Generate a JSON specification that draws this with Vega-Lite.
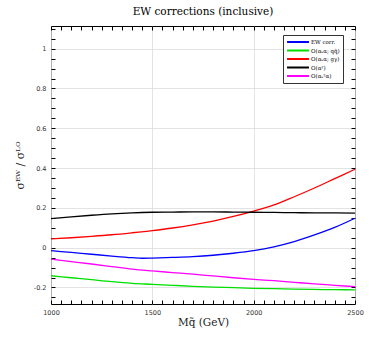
{
  "$schema": "https://vega.github.io/schema/vega-lite/v6.json",
  "autosize": "none",
  "width": 304,
  "height": 278,
  "padding": {"left": 51, "top": 26, "right": 37, "bottom": 39},
  "background": "white",
  "title": {"text": "EW corrections (inclusive)", "font": "DejaVu Serif", "fontSize": 10.5, "fontWeight": "normal", "color": "black", "offset": 8, "anchor": "middle"},
  "config": {
    "view": {"stroke": "black", "strokeWidth": 1},
    "axis": {"domain": false, "zindex": 1, "labelFont": "DejaVu Sans", "labelFontSize": 6.5, "labelColor": "#333", "titleFont": "DejaVu Serif", "titleFontWeight": "normal", "titleColor": "#222", "gridColor": "#dcdcdc", "gridWidth": 0.8}
  },
  "data": {"values": [
    {"m": 1000, "s": "EW corr.", "v": -0.015}, {"m": 1100, "s": "EW corr.", "v": -0.024}, {"m": 1200, "s": "EW corr.", "v": -0.033}, {"m": 1300, "s": "EW corr.", "v": -0.042}, {"m": 1400, "s": "EW corr.", "v": -0.05}, {"m": 1450, "s": "EW corr.", "v": -0.053}, {"m": 1500, "s": "EW corr.", "v": -0.052}, {"m": 1600, "s": "EW corr.", "v": -0.049}, {"m": 1700, "s": "EW corr.", "v": -0.045}, {"m": 1800, "s": "EW corr.", "v": -0.038}, {"m": 1900, "s": "EW corr.", "v": -0.028}, {"m": 2000, "s": "EW corr.", "v": -0.015}, {"m": 2100, "s": "EW corr.", "v": 0.004}, {"m": 2200, "s": "EW corr.", "v": 0.03}, {"m": 2300, "s": "EW corr.", "v": 0.064}, {"m": 2400, "s": "EW corr.", "v": 0.102}, {"m": 2500, "s": "EW corr.", "v": 0.148},
    {"m": 1000, "s": "O(αₛα; qq̄)", "v": -0.141}, {"m": 1100, "s": "O(αₛα; qq̄)", "v": -0.151}, {"m": 1200, "s": "O(αₛα; qq̄)", "v": -0.161}, {"m": 1300, "s": "O(αₛα; qq̄)", "v": -0.171}, {"m": 1400, "s": "O(αₛα; qq̄)", "v": -0.179}, {"m": 1500, "s": "O(αₛα; qq̄)", "v": -0.184}, {"m": 1600, "s": "O(αₛα; qq̄)", "v": -0.189}, {"m": 1700, "s": "O(αₛα; qq̄)", "v": -0.194}, {"m": 1800, "s": "O(αₛα; qq̄)", "v": -0.198}, {"m": 1900, "s": "O(αₛα; qq̄)", "v": -0.201}, {"m": 2000, "s": "O(αₛα; qq̄)", "v": -0.204}, {"m": 2100, "s": "O(αₛα; qq̄)", "v": -0.206}, {"m": 2200, "s": "O(αₛα; qq̄)", "v": -0.208}, {"m": 2300, "s": "O(αₛα; qq̄)", "v": -0.21}, {"m": 2400, "s": "O(αₛα; qq̄)", "v": -0.211}, {"m": 2500, "s": "O(αₛα; qq̄)", "v": -0.212},
    {"m": 1000, "s": "O(αₛα; gγ)", "v": 0.044}, {"m": 1100, "s": "O(αₛα; gγ)", "v": 0.05}, {"m": 1200, "s": "O(αₛα; gγ)", "v": 0.057}, {"m": 1300, "s": "O(αₛα; gγ)", "v": 0.065}, {"m": 1400, "s": "O(αₛα; gγ)", "v": 0.075}, {"m": 1500, "s": "O(αₛα; gγ)", "v": 0.086}, {"m": 1600, "s": "O(αₛα; gγ)", "v": 0.099}, {"m": 1700, "s": "O(αₛα; gγ)", "v": 0.115}, {"m": 1800, "s": "O(αₛα; gγ)", "v": 0.134}, {"m": 1900, "s": "O(αₛα; gγ)", "v": 0.157}, {"m": 2000, "s": "O(αₛα; gγ)", "v": 0.184}, {"m": 2100, "s": "O(αₛα; gγ)", "v": 0.215}, {"m": 2200, "s": "O(αₛα; gγ)", "v": 0.256}, {"m": 2300, "s": "O(αₛα; gγ)", "v": 0.3}, {"m": 2400, "s": "O(αₛα; gγ)", "v": 0.347}, {"m": 2500, "s": "O(αₛα; gγ)", "v": 0.394},
    {"m": 1000, "s": "O(α²)", "v": 0.146}, {"m": 1100, "s": "O(α²)", "v": 0.155}, {"m": 1200, "s": "O(α²)", "v": 0.163}, {"m": 1300, "s": "O(α²)", "v": 0.17}, {"m": 1400, "s": "O(α²)", "v": 0.175}, {"m": 1500, "s": "O(α²)", "v": 0.178}, {"m": 1600, "s": "O(α²)", "v": 0.179}, {"m": 1700, "s": "O(α²)", "v": 0.18}, {"m": 1800, "s": "O(α²)", "v": 0.18}, {"m": 1900, "s": "O(α²)", "v": 0.179}, {"m": 2000, "s": "O(α²)", "v": 0.178}, {"m": 2100, "s": "O(α²)", "v": 0.177}, {"m": 2200, "s": "O(α²)", "v": 0.176}, {"m": 2300, "s": "O(α²)", "v": 0.175}, {"m": 2400, "s": "O(α²)", "v": 0.175}, {"m": 2500, "s": "O(α²)", "v": 0.174},
    {"m": 1000, "s": "O(αₛ²α)", "v": -0.058}, {"m": 1100, "s": "O(αₛ²α)", "v": -0.07}, {"m": 1200, "s": "O(αₛ²α)", "v": -0.082}, {"m": 1300, "s": "O(αₛ²α)", "v": -0.095}, {"m": 1400, "s": "O(αₛ²α)", "v": -0.108}, {"m": 1500, "s": "O(αₛ²α)", "v": -0.117}, {"m": 1600, "s": "O(αₛ²α)", "v": -0.125}, {"m": 1700, "s": "O(αₛ²α)", "v": -0.133}, {"m": 1800, "s": "O(αₛ²α)", "v": -0.142}, {"m": 1900, "s": "O(αₛ²α)", "v": -0.151}, {"m": 2000, "s": "O(αₛ²α)", "v": -0.159}, {"m": 2100, "s": "O(αₛ²α)", "v": -0.166}, {"m": 2200, "s": "O(αₛ²α)", "v": -0.174}, {"m": 2300, "s": "O(αₛ²α)", "v": -0.182}, {"m": 2400, "s": "O(αₛ²α)", "v": -0.189}, {"m": 2500, "s": "O(αₛ²α)", "v": -0.196}
  ]},
  "layer": [
    {
      "mark": {"type": "line", "strokeWidth": 1.3, "interpolate": "monotone"},
      "encoding": {
        "x": {"field": "m", "type": "quantitative", "scale": {"domain": [1000, 2500], "nice": false, "zero": false},
          "axis": {"title": "Mq̃ (GeV)", "titleFontSize": 10.5, "titlePadding": 2, "ticks": true, "tickSize": 4, "tickColor": "black", "tickWidth": 1, "tickOpacity": 1, "offset": -4, "domain": false,
            "values": [1000,1050,1100,1150,1200,1250,1300,1350,1400,1450,1500,1550,1600,1650,1700,1750,1800,1850,1900,1950,2000,2050,2100,2150,2200,2250,2300,2350,2400,2450,2500],
            "labelExpr": "datum.value % 500 === 0 ? datum.value : ''",
            "gridOpacity": {"condition": {"test": "datum.value % 500 === 0", "value": 1}, "value": 0},
            "labelPadding": 5, "labelFlush": false}},
        "y": {"field": "v", "type": "quantitative", "scale": {"domain": [-0.283, 1.114], "nice": false, "zero": false},
          "axis": {"title": "σᴱᵂ / σᴸᴼ", "titleFontSize": 11, "titlePadding": 8, "ticks": true, "tickSize": 4, "tickColor": "black", "tickWidth": 1, "tickOpacity": 1, "offset": -4, "domain": false,
            "values": [-0.25,-0.2,-0.15,-0.1,-0.05,0,0.05,0.1,0.15,0.2,0.25,0.3,0.35,0.4,0.45,0.5,0.55,0.6,0.65,0.7,0.75,0.8,0.85,0.9,0.95,1,1.05,1.1],
            "labelExpr": "abs(datum.value*5 - round(datum.value*5)) < 0.001 ? replace(format(datum.value, '.1~f'), '−', '-') : ''",
            "gridOpacity": {"condition": {"test": "abs(datum.value*5 - round(datum.value*5)) < 0.001", "value": 1}, "value": 0},
            "labelPadding": 5}},
        "color": {"field": "s", "type": "nominal",
          "scale": {"domain": ["EW corr.", "O(αₛα; qq̄)", "O(αₛα; gγ)", "O(α²)", "O(αₛ²α)"], "range": ["#0000ff", "#00e000", "#ff0000", "#000000", "#ff00ff"]},
          "legend": {"title": null, "orient": "none", "legendX": 232, "legendY": 9, "strokeColor": "#333", "fillColor": "white", "padding": 3, "symbolType": "stroke", "symbolSize": 480, "symbolStrokeWidth": 2, "clipHeight": 8, "labelFont": "DejaVu Serif", "labelFontSize": 5.5, "labelColor": "black", "rowPadding": 0.5, "symbolOffset": 0, "labelOffset": 1, "cornerRadius": 0}}
      }
    },
    {
      "mark": {"type": "line", "opacity": 0},
      "encoding": {
        "x": {"field": "m", "type": "quantitative",
          "axis": {"title": null, "orient": "top", "grid": false, "labels": false, "ticks": true, "tickSize": 4, "tickColor": "black", "tickWidth": 1, "tickOpacity": 1, "offset": -4, "domain": false,
            "values": [1000,1050,1100,1150,1200,1250,1300,1350,1400,1450,1500,1550,1600,1650,1700,1750,1800,1850,1900,1950,2000,2050,2100,2150,2200,2250,2300,2350,2400,2450,2500]}},
        "y": {"field": "v", "type": "quantitative",
          "axis": {"title": null, "orient": "right", "grid": false, "labels": false, "ticks": true, "tickSize": 4, "tickColor": "black", "tickWidth": 1, "tickOpacity": 1, "offset": -4, "domain": false,
            "values": [-0.25,-0.2,-0.15,-0.1,-0.05,0,0.05,0.1,0.15,0.2,0.25,0.3,0.35,0.4,0.45,0.5,0.55,0.6,0.65,0.7,0.75,0.8,0.85,0.9,0.95,1,1.05,1.1]}},
        "detail": {"field": "s"}
      }
    }
  ],
  "resolve": {"axis": {"x": "independent", "y": "independent"}}
}
